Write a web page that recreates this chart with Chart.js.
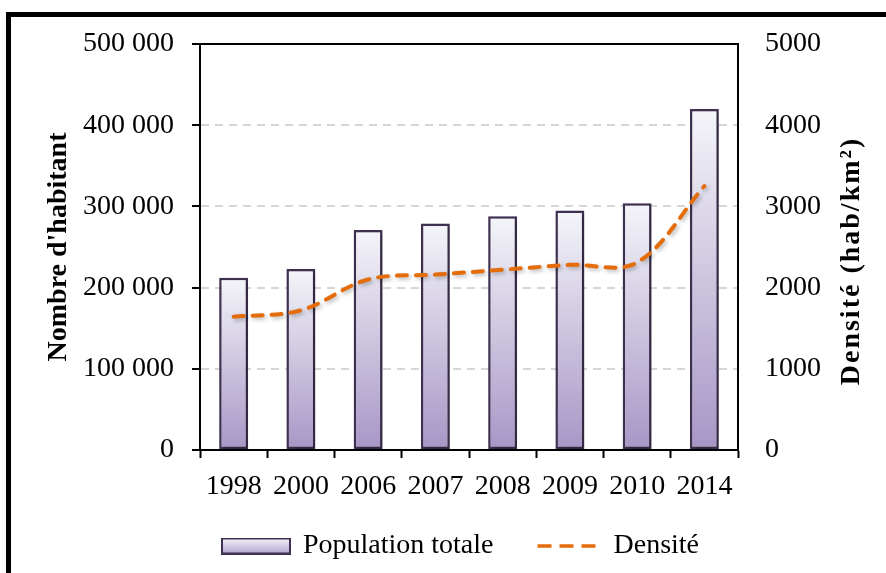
<!DOCTYPE html>
<html lang="fr">
<head>
<meta charset="utf-8">
<title>Population totale et densité</title>
<script src="https://cdn.jsdelivr.net/npm/chart.js@4.4.1/dist/chart.umd.min.js"></script>
<style>
  html, body { margin: 0; padding: 0; background: #ffffff; }
  #wrap { width: 886px; height: 573px; position: relative; }
  canvas { display: block; }
</style>
</head>
<body>
<div id="wrap"><canvas id="chart" width="886" height="573"></canvas></div>
<script>
// Années recensées
const annees = ['1998', '2000', '2006', '2007', '2008', '2009', '2010', '2014'];
// Population totale (habitants)
const population = [212000, 223000, 271000, 279000, 288000, 295000, 304000, 420000];
// Densité (hab/km²)
const densite = [1640, 1720, 2100, 2160, 2220, 2280, 2310, 3250];
// Graduations des deux axes verticaux
const graduationsPop = [0, 100000, 200000, 300000, 400000, 500000];
const graduationsDens = [0, 1000, 2000, 3000, 4000, 5000];

const FONT = "'Liberation Serif', 'Times New Roman', serif";
const BAR_TOP = '#f4f5f9';
const BAR_BOTTOM = '#a796c6';
const BAR_EDGE = '#3f3151';
const ORANGE = '#e46c0a';

Chart.defaults.font.family = FONT;
Chart.defaults.font.size = 28;
Chart.defaults.color = '#000000';

function espaceMilliers(v) {
  return String(v).replace(/\B(?=(\d{3})+(?!\d))/g, ' ');
}

// Dégradé vertical propre à chaque barre (clair en haut, violet en bas)
function remplissageBarre(ctx) {
  const chart = ctx.chart;
  const y = chart.scales && chart.scales.y;
  if (ctx.type !== 'data' || !y || !ctx.parsed || ctx.parsed.y === undefined) return BAR_BOTTOM;
  const top = y.getPixelForValue(ctx.parsed.y);
  const base = y.getPixelForValue(0);
  if (!isFinite(top) || !isFinite(base) || base - top < 1) return BAR_BOTTOM;
  const g = chart.ctx.createLinearGradient(0, top, 0, base);
  g.addColorStop(0, BAR_TOP);
  g.addColorStop(1, BAR_BOTTOM);
  return g;
}

// Symboles de légende : rectangle dégradé et trait pointillé
function symboleBarre() {
  const cv = document.createElement('canvas');
  cv.width = 70; cv.height = 17;
  const c = cv.getContext('2d');
  const g = c.createLinearGradient(0, 1, 0, 16);
  g.addColorStop(0, '#f3f1f8');
  g.addColorStop(1, '#b4a6ce');
  c.fillStyle = g;
  c.fillRect(1, 1, 68, 15);
  c.strokeStyle = BAR_EDGE;
  c.lineWidth = 2;
  c.strokeRect(1, 1, 68, 15);
  return cv;
}
function symboleLigne() {
  const cv = document.createElement('canvas');
  cv.width = 60; cv.height = 6;
  const c = cv.getContext('2d');
  c.strokeStyle = ORANGE;
  c.lineWidth = 3.5;
  c.setLineDash([14, 8]);
  c.beginPath();
  c.moveTo(1, 3);
  c.lineTo(59, 3);
  c.stroke();
  return cv;
}
const symboles = [symboleBarre(), symboleLigne()];

// Cadre noir, ligne supérieure de la zone de tracé, titre de l'axe droit, ombres
const decor = {
  id: 'decor',
  afterLayout(chart) {
    if (chart.legend) {
      chart.legend.top -= 12;
      chart.legend.bottom -= 12;
    }
  },
  beforeDraw(chart) {
    const c = chart.ctx;
    c.save();
    c.fillStyle = '#ffffff';
    c.fillRect(0, 0, chart.width, chart.height);
    c.fillStyle = '#000000';
    c.fillRect(6, 12, chart.width - 6, 5);
    c.fillRect(6, 12, 5, chart.height - 12);
    c.restore();
  },
  beforeDatasetsDraw(chart) {
    const a = chart.chartArea;
    const c = chart.ctx;
    c.save();
    c.strokeStyle = '#000000';
    c.lineWidth = 2;
    c.beginPath();
    c.moveTo(a.left - 8, a.top);
    c.lineTo(a.right, a.top);
    c.stroke();
    c.restore();
  },
  beforeDatasetDraw(chart) {
    const c = chart.ctx;
    c.save();
    c.shadowColor = 'rgba(0, 0, 0, 0.28)';
    c.shadowBlur = 4;
    c.shadowOffsetX = 2;
    c.shadowOffsetY = 2;
  },
  afterDatasetDraw(chart) {
    chart.ctx.restore();
  },
  afterDraw(chart) {
    const c = chart.ctx;
    const a = chart.chartArea;
    c.save();
    c.translate(852, (a.top + a.bottom) / 2 + 14);
    c.rotate(-Math.PI / 2);
    c.font = "bold 28px " + FONT;
    if ('letterSpacing' in c) c.letterSpacing = '2px';
    c.fillStyle = '#000000';
    c.textAlign = 'center';
    c.textBaseline = 'middle';
    c.fillText('Densité (hab/km²)', 0, 0);
    c.restore();
  }
};

new Chart(document.getElementById('chart'), {
  data: {
    labels: annees,
    datasets: [
      {
        type: 'bar',
        label: 'Population totale',
        data: population,
        yAxisID: 'y',
        order: 2,
        backgroundColor: remplissageBarre,
        borderColor: BAR_EDGE,
        borderWidth: 2.5,
        borderSkipped: false,
        barPercentage: 0.43,
        categoryPercentage: 1.0
      },
      {
        type: 'line',
        label: 'Densité',
        data: densite,
        yAxisID: 'y1',
        order: 1,
        borderColor: ORANGE,
        backgroundColor: ORANGE,
        borderWidth: 4,
        borderDash: [10, 9],
        borderCapStyle: 'round',
        tension: 0.35,
        pointRadius: 0,
        pointHoverRadius: 0,
        fill: false
      }
    ]
  },
  options: {
    responsive: false,
    devicePixelRatio: 1,
    animation: false,
    layout: { padding: { left: 40, right: 4, top: 44, bottom: 0 } },
    plugins: {
      tooltip: { enabled: false },
      legend: {
        position: 'bottom',
        maxHeight: 69,
        labels: {
          font: { size: 28, family: FONT },
          color: '#000000',
          usePointStyle: true,
          pointStyleWidth: 66,
          boxHeight: 15,
          padding: 40,
          sort: (a, b) => a.datasetIndex - b.datasetIndex,
          generateLabels(chart) {
            const items = Chart.defaults.plugins.legend.labels.generateLabels(chart);
            items.forEach(it => {
              it.pointStyle = symboles[it.datasetIndex];
              it.rotation = 0;
            });
            return items;
          }
        }
      }
    },
    scales: {
      x: {
        offset: true,
        grid: {
          offset: true,
          drawOnChartArea: false,
          drawTicks: true,
          tickLength: 8,
          tickColor: '#000000',
          tickWidth: 2
        },
        border: { display: true, color: '#000000', width: 2 },
        ticks: { padding: 12, maxRotation: 0, autoSkip: false, font: { size: 28 } },
        afterFit(scale) { scale.height = 54; }
      },
      y: {
        position: 'left',
        min: graduationsPop[0],
        max: graduationsPop[graduationsPop.length - 1],
        afterBuildTicks(scale) { scale.ticks = graduationsPop.map(v => ({ value: v })); },
        grid: {
          color: (c) => (c.tick && (c.tick.value === 0 || c.tick.value === 500000)) ? 'rgba(0,0,0,0)' : '#d6d6d6',
          lineWidth: 2,
          drawTicks: true,
          tickLength: 8,
          tickColor: '#000000',
          tickWidth: 2,
          tickBorderDash: []
        },
        border: { display: true, color: '#000000', width: 2, dash: [8, 6] },
        ticks: { padding: 18, font: { size: 28 }, callback: (v) => espaceMilliers(v) },
        title: {
          display: true,
          text: "Nombre d'habitant",
          font: { size: 28, weight: 'bold', family: FONT },
          color: '#000000',
          padding: { top: 2, bottom: 0 }
        },
        afterFit(scale) { scale.width = 160; }
      },
      y1: {
        position: 'right',
        min: graduationsDens[0],
        max: graduationsDens[graduationsDens.length - 1],
        afterBuildTicks(scale) { scale.ticks = graduationsDens.map(v => ({ value: v })); },
        grid: { display: false, drawOnChartArea: false, drawTicks: false },
        border: { display: true, color: '#000000', width: 2 },
        ticks: { padding: 27, font: { size: 28 }, callback: (v) => String(v) },
        afterFit(scale) { scale.width = 144; }
      }
    }
  },
  plugins: [decor]
});
</script>
</body>
</html>
